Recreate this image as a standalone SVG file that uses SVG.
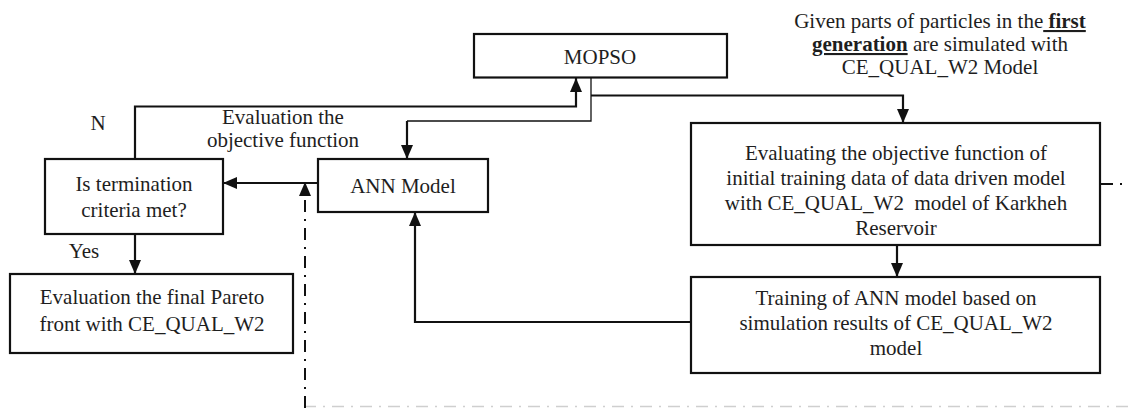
<svg xmlns="http://www.w3.org/2000/svg" width="1128" height="408" viewBox="0 0 1128 408">
  <style>
    .box { fill: #ffffff; stroke: #111111; stroke-width: 2.2; }
    .lbl { font-family: 'Liberation Serif', 'Times New Roman', Times, serif; font-size: 21px; fill: #1e1e1e; text-anchor: middle; }
    .edge { fill: none; stroke: #111111; stroke-width: 2.2; }
    .thin { fill: none; stroke: #111111; stroke-width: 1.3; }
    .dashdot { fill: none; stroke: #111111; stroke-width: 2; stroke-dasharray: 12 7 2 7; }
    .faint { fill: none; stroke: #cfcfcf; stroke-width: 1.5; stroke-dasharray: 12 7 2 7; }
    .em { font-weight: bold; text-decoration: underline; }
  </style>
  <defs>
    <marker id="arrow" markerUnits="userSpaceOnUse" markerWidth="14" markerHeight="14" viewBox="0 0 14 14" refX="14" refY="7" orient="auto">
      <path d="M0,1 L14,7 L0,13 Z" fill="#111111"/>
    </marker>
  </defs>

  <!-- connectors -->
  <g id="connectors">
    <!-- N branch: termination check back to MOPSO -->
    <polyline class="edge" points="135,159 135,106.5 576,106.5 576,78" marker-end="url(#arrow)"/>
    <!-- MOPSO to ANN model -->
    <polyline class="thin" points="591,78 591,121 407,121"/>
    <line class="edge" x1="407" y1="121" x2="407" y2="159" marker-end="url(#arrow)"/>
    <!-- MOPSO to initial evaluation -->
    <polyline class="edge" points="591,95.5 903,95.5 903,123" marker-end="url(#arrow)"/>
    <!-- ANN model to termination check -->
    <line class="edge" x1="318" y1="183" x2="223" y2="183" marker-end="url(#arrow)"/>
    <!-- Yes branch -->
    <line class="edge" x1="135" y1="234" x2="135" y2="274" marker-end="url(#arrow)"/>
    <!-- initial evaluation to training -->
    <line class="edge" x1="897" y1="245" x2="897" y2="277" marker-end="url(#arrow)"/>
    <!-- training back to ANN model -->
    <polyline class="edge" points="691,322 415,322 415,212" marker-end="url(#arrow)"/>
    <!-- dash-dot loop -->
    <line class="dashdot" x1="1101" y1="184" x2="1128" y2="184"/>
    <line class="faint" x1="1128" y1="406.5" x2="305" y2="406.5"/>
    <line class="dashdot" x1="305" y1="408" x2="305" y2="182" marker-end="url(#arrow)"/>
  </g>

  <!-- edge labels -->
  <g id="edge-labels">
    <text class="lbl" x="98" y="130">N</text>
    <text class="lbl" x="84" y="258">Yes</text>
    <text class="lbl" x="283" y="124">Evaluation the</text>
    <text class="lbl" x="283" y="147">objective function</text>
  </g>

  <g id="note">
    <text class="lbl" x="940" y="28">Given parts of particles in the<tspan class="em"> first</tspan></text>
    <text class="lbl" x="940" y="51"><tspan class="em">generation</tspan> are simulated with</text>
    <text class="lbl" x="940" y="74">CE_QUAL_W2 Model</text>
  </g>

  <g id="mopso">
    <rect class="box" x="474" y="34" width="253" height="43.5"/>
    <text class="lbl" x="600" y="64">MOPSO</text>
  </g>

  <g id="ann-model">
    <rect class="box" x="318" y="159" width="170" height="53"/>
    <text class="lbl" x="403" y="193">ANN Model</text>
  </g>

  <g id="termination-check">
    <rect class="box" x="45" y="159" width="178" height="75"/>
    <text class="lbl" x="134" y="191">Is termination</text>
    <text class="lbl" x="134" y="217">criteria met?</text>
  </g>

  <g id="final-evaluation">
    <rect class="box" x="10" y="274" width="283" height="79"/>
    <text class="lbl" x="152" y="304">Evaluation the final Pareto</text>
    <text class="lbl" x="152" y="331">front with CE_QUAL_W2</text>
  </g>

  <g id="initial-evaluation">
    <rect class="box" x="691" y="123" width="409" height="122"/>
    <text class="lbl" x="896" y="160">Evaluating the objective function of</text>
    <text class="lbl" x="896" y="185">initial training data of data driven model</text>
    <text class="lbl" x="896" y="210" xml:space="preserve">with CE_QUAL_W2  model of Karkheh</text>
    <text class="lbl" x="896" y="235">Reservoir</text>
  </g>

  <g id="ann-training">
    <rect class="box" x="691" y="277" width="409" height="96"/>
    <text class="lbl" x="896" y="305">Training of ANN model based on</text>
    <text class="lbl" x="896" y="330">simulation results of CE_QUAL_W2</text>
    <text class="lbl" x="896" y="355">model</text>
  </g>
</svg>
